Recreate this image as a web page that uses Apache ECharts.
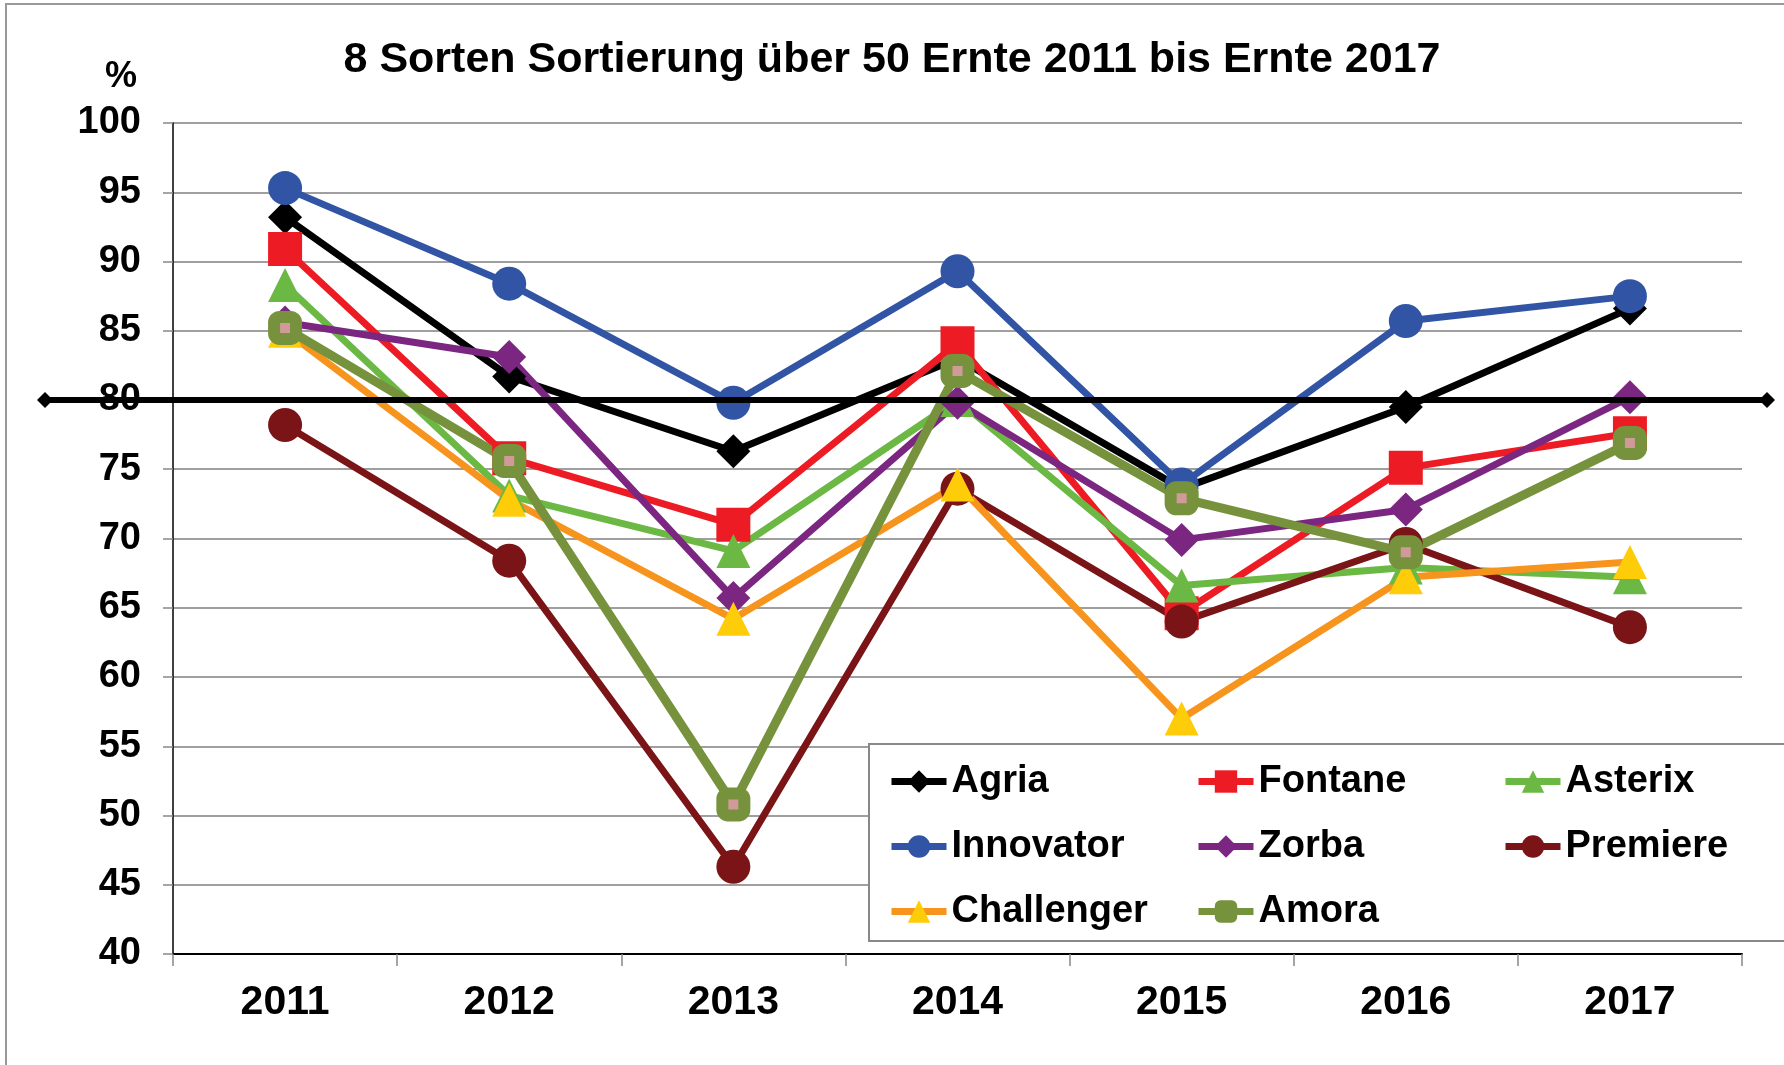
<!DOCTYPE html>
<html>
<head>
<meta charset="utf-8">
<script src="https://cdn.jsdelivr.net/npm/echarts@6/dist/echarts.min.js"></script>
<style>
  html, body { margin: 0; padding: 0; background: #fff; }
  #chart { width: 1784px; height: 1065px; }
</style>
</head>
<body>
<div id="chart"></div>
<script>
// Ernte-Jahre
var years = ['2011', '2012', '2013', '2014', '2015', '2016', '2017']

// Sortierung über 50 in %
var agria = [93.2, 81.7, 76.3, 83.0, 73.6, 79.5, 86.6]
var fontane = [90.9, 75.8, 71.0, 84.1, 64.6, 75.1, 77.6]
var asterix = [88.3, 73.1, 69.1, 80.0, 66.6, 67.9, 67.2]
var innovator = [95.3, 88.4, 79.8, 89.3, 73.9, 85.7, 87.5]
var zorba = [85.6, 83.1, 65.7, 79.8, 69.9, 72.1, 80.2]
var premiere = [78.2, 68.4, 46.3, 73.6, 64.0, 69.6, 63.6]
var challenger = [85.0, 72.8, 64.2, 73.9, 57.0, 67.2, 68.3]
var amora = [85.2, 75.6, 50.8, 82.1, 72.9, 69.0, 76.9]

// Referenzlinie
var refLevel = 80

var yMin = 40
var yMax = 100
var yStep = 5

var font = "'Liberation Sans', Arial, Helvetica, sans-serif"

function line(name, data, color, symbol, opts) {
  opts = opts || {}
  return {
    name: name,
    type: 'line',
    data: data,
    symbol: symbol,
    symbolSize: opts.size || 34,
    lineStyle: { color: color, width: opts.width || 7 },
    itemStyle: {
      color: opts.markerColor || color,
      borderColor: opts.borderColor || 'transparent',
      borderWidth: opts.borderWidth || 0
    },
    emphasis: { disabled: true },
    animation: false
  }
}

var legendBase = {
  orient: 'vertical',
  itemWidth: 55,
  itemHeight: 28,
  itemGap: 20,
  top: 754,
  selectedMode: false,
  lineStyle: { width: 7 },
  textStyle: {
    fontSize: 38,
    fontWeight: 'bold',
    color: '#000',
    fontFamily: font,
    lineHeight: 45
  }
}

var chart = echarts.init(document.getElementById('chart'))
var option = {
  backgroundColor: '#fff',
  title: {
    text: '8 Sorten Sortierung über 50 Ernte 2011 bis Ernte 2017',
    left: 'center',
    top: 34,
    textStyle: { fontSize: 43, fontWeight: 'bold', color: '#000', fontFamily: font }
  },
  graphic: [
    {
      type: 'rect',
      z: 0,
      shape: { x: 6, y: 4, width: 1800, height: 1100 },
      style: { fill: 'none', stroke: '#999', lineWidth: 2 },
      silent: true
    },
    {
      type: 'text',
      z: 1,
      x: 121,
      y: 77,
      style: {
        text: '%',
        fontSize: 36,
        fontWeight: 'bold',
        fill: '#000',
        fontFamily: font,
        align: 'center',
        verticalAlign: 'middle'
      }
    },
    {
      type: 'rect',
      z: 1,
      shape: { x: 869, y: 744, width: 960, height: 197 },
      style: { fill: '#fff', stroke: '#888', lineWidth: 2 },
      silent: true
    }
  ],
  legend: [
    Object.assign({}, legendBase, { left: 883, data: ['Agria', 'Innovator', 'Challenger'] }),
    Object.assign({}, legendBase, {
      left: 1190,
      data: ['Fontane', 'Zorba', { name: 'Amora', itemStyle: { color: '#76923C', borderWidth: 0 } }]
    }),
    Object.assign({}, legendBase, { left: 1497, data: ['Asterix', 'Premiere'] })
  ],
  grid: [
    { left: 173, right: 42, top: 123, bottom: 111 },
    { left: 45, right: 17, top: 123, bottom: 111 }
  ],
  xAxis: [
    {
      type: 'category',
      gridIndex: 0,
      data: years,
      boundaryGap: true,
      axisLine: { lineStyle: { color: '#000', width: 2 } },
      axisTick: { show: true, length: 12, lineStyle: { color: '#888', width: 1.5 } },
      axisLabel: {
        margin: 28,
        fontSize: 41,
        fontWeight: 'bold',
        color: '#000',
        fontFamily: font
      }
    },
    {
      type: 'value',
      gridIndex: 1,
      min: 0,
      max: 1,
      show: false
    }
  ],
  yAxis: [
    {
      type: 'value',
      gridIndex: 0,
      min: yMin,
      max: yMax,
      interval: yStep,
      axisLine: { show: true, lineStyle: { color: '#000', width: 1.5 } },
      axisTick: { show: true, length: 10, lineStyle: { color: '#888', width: 1.5 } },
      splitLine: { show: true, lineStyle: { color: '#7f7f7f', width: 1.5 } },
      axisLabel: {
        margin: 32,
        fontSize: 38,
        fontWeight: 'bold',
        color: '#000',
        fontFamily: font
      }
    },
    {
      type: 'value',
      gridIndex: 1,
      min: yMin,
      max: yMax,
      show: false
    }
  ],
  series: [
    line('Agria', agria, '#000000', 'diamond'),
    line('Fontane', fontane, '#ED1C24', 'rect'),
    line('Asterix', asterix, '#6BB944', 'triangle'),
    line('Innovator', innovator, '#3155A4', 'circle'),
    line('Zorba', zorba, '#7B2680', 'diamond'),
    line('Premiere', premiere, '#7A1417', 'circle'),
    line('Challenger', challenger, '#F7941D', 'triangle', { markerColor: '#FFCC0A' }),
    line('Amora', amora, '#76923C', 'roundRect', {
      size: 22, width: 9, markerColor: '#D09A98', borderColor: '#76923C', borderWidth: 12
    }),
    {
      name: 'ref',
      type: 'line',
      xAxisIndex: 1,
      yAxisIndex: 1,
      data: [[0, refLevel], [1, refLevel]],
      symbol: 'diamond',
      symbolSize: 16,
      lineStyle: { color: '#000', width: 6 },
      itemStyle: { color: '#000' },
      z: 5,
      silent: true,
      animation: false
    }
  ]
}
chart.setOption(option)
</script>
</body>
</html>
